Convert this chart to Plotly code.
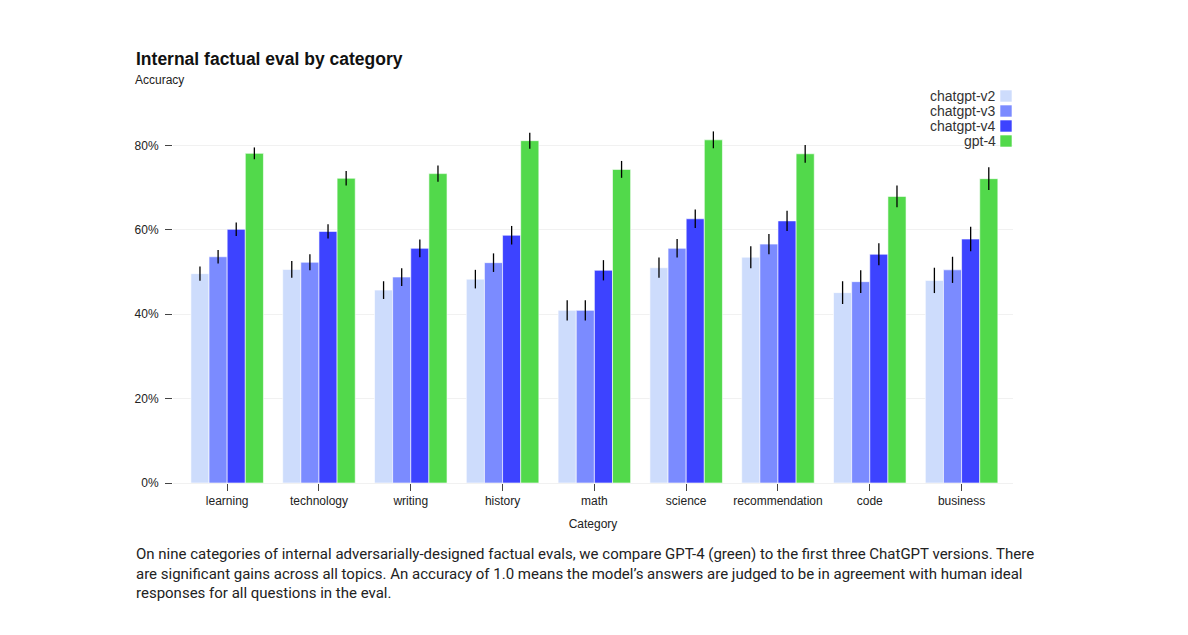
import plotly.graph_objects as go

categories = ["learning", "technology", "writing", "history", "math",
              "science", "recommendation", "code", "business"]
series_names = ["chatgpt-v2", "chatgpt-v3", "chatgpt-v4", "gpt-4"]
colors = ["#cddcfc", "#7b8bff", "#3d43ff", "#52d94b"]

v2 = [0.496, 0.506, 0.457, 0.483, 0.409, 0.510, 0.535, 0.451, 0.480]
v3 = [0.536, 0.523, 0.488, 0.522, 0.409, 0.556, 0.566, 0.477, 0.505]
v4 = [0.601, 0.596, 0.556, 0.587, 0.504, 0.626, 0.621, 0.542, 0.578]
g4 = [0.781, 0.722, 0.733, 0.811, 0.743, 0.813, 0.780, 0.679, 0.721]

v2_err = [0.017, 0.020, 0.021, 0.022, 0.024, 0.024, 0.026, 0.027, 0.030]
v3_err = [0.016, 0.019, 0.021, 0.022, 0.024, 0.022, 0.024, 0.027, 0.031]
v4_err = [0.016, 0.017, 0.021, 0.022, 0.024, 0.022, 0.024, 0.026, 0.029]
g4_err = [0.014, 0.017, 0.019, 0.019, 0.020, 0.020, 0.021, 0.026, 0.027]

values = [v2, v3, v4, g4]
errors = [v2_err, v3_err, v4_err, g4_err]

title_text = "Internal factual eval by category"
subtitle_text = "Accuracy"
x_title = "Category"
caption = ("On nine categories of internal adversarially-designed factual evals, we compare GPT-4 (green) to the first three ChatGPT versions. There<br>"
           "are significant gains across all topics. An accuracy of 1.0 means the model\u2019s answers are judged to be in agreement with human ideal<br>"
           "responses for all questions in the eval.")

# page body has an 8px margin; figure coordinates are screen coords minus 8
OFF = 8
W, H = 1188 - 2 * OFF, 635 - 2 * OFF
ML, MT = 173 - OFF, 120 - OFF
PW, PH = 840, 363
MR = W - ML - PW
MB = H - MT - PH


def px_x(p):
    return (p - OFF - ML) / PW


def px_y(p):
    return (MT + PH - (p - OFF)) / PH


fig = go.Figure()
for name, col, vals, errs in zip(series_names, colors, values, errors):
    fig.add_trace(go.Bar(
        x=categories, y=vals, name=name,
        marker=dict(color=col, line=dict(color="rgba(255,255,255,0.6)", width=1)),
        error_y=dict(type="data", array=errs, visible=True, color="#000000",
                     thickness=1.3, width=0),
        showlegend=False,
    ))

annotations = [
    dict(text="<b>" + title_text + "</b>", x=px_x(134), y=px_y(59), xref="paper", yref="paper",
         xanchor="left", yanchor="middle", showarrow=False,
         font=dict(family="Liberation Sans, Arial", size=17.5, color="#111111")),
    dict(text=subtitle_text, x=px_x(133), y=px_y(80), xref="paper", yref="paper",
         xanchor="left", yanchor="middle", showarrow=False,
         font=dict(family="Liberation Sans, Arial", size=12, color="#222222")),
    dict(text=caption, x=px_x(134), y=px_y(543), xref="paper", yref="paper",
         xanchor="left", yanchor="top", showarrow=False, align="left",
         font=dict(family="Roboto", size=15, color="#222222")),
]

shapes = []
leg_y0 = 96
for i, (name, col) in enumerate(zip(series_names, colors)):
    yc = leg_y0 + i * 15
    annotations.append(dict(text=name, x=px_x(998), y=px_y(yc), xref="paper", yref="paper",
                            xanchor="right", yanchor="middle", showarrow=False,
                            font=dict(family="Liberation Sans, Arial", size=14, color="#333333")))
    shapes.append(dict(type="rect", xref="paper", yref="paper",
                       x0=px_x(1000), x1=px_x(1012), y0=px_y(yc - 6), y1=px_y(yc + 6),
                       fillcolor=col, line=dict(color="rgba(255,255,255,0.6)", width=1)))

fig.update_layout(
    width=W, height=H,
    margin=dict(l=ML, r=MR, t=MT, b=MB),
    paper_bgcolor="white", plot_bgcolor="white",
    barmode="group", bargap=0.21, bargroupgap=0.0,
    font=dict(family="Liberation Sans, Arial", size=12, color="#333333"),
    annotations=annotations, shapes=shapes,
    showlegend=False,
    xaxis=dict(range=[-0.59, 8.56], showgrid=False, zeroline=False, showline=False,
               ticks="outside", ticklen=7, tickcolor="#444444", tickwidth=1,
               tickfont=dict(size=12, color="#222222"),
               title=dict(text=x_title, font=dict(size=12, color="#222222"), standoff=12)),
    yaxis=dict(range=[0, 0.86], tickvals=[0, 0.2, 0.4, 0.6, 0.8], tickformat=".0%",
               showgrid=True, gridcolor="#f1f1f1", gridwidth=1,
               zeroline=True, zerolinecolor="#f1f1f1", zerolinewidth=1,
               ticks="outside", ticklen=7, tickcolor="#444444", tickwidth=1,
               ticklabelstandoff=4,
               tickfont=dict(size=12, color="#222222")),
)

fig.write_html("out.html")
